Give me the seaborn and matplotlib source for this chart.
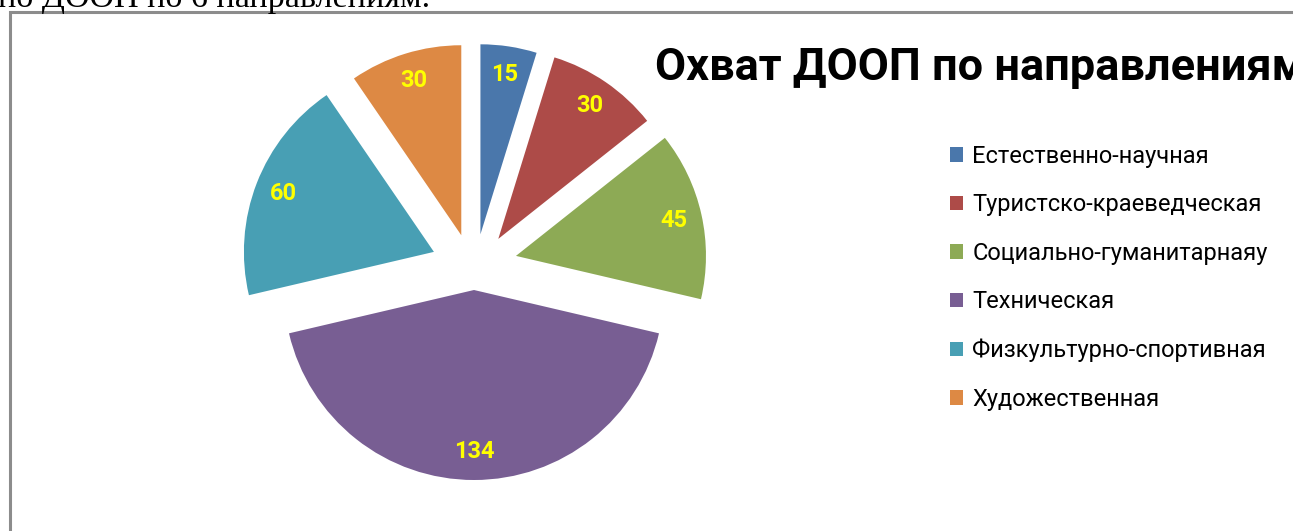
import numpy as np
import matplotlib.pyplot as plt
import seaborn as sns
from matplotlib.patches import Rectangle

# Chart data
categories = ['Естественно-научная', 'Туристско-краеведческая', 'Социально-гуманитарнаяу',
              'Техническая', 'Физкультурно-спортивная', 'Художественная']
values = [15, 30, 45, 134, 60, 30]
colors = ['#4A77AB', '#AD4B48', '#8DAA55', '#785E93', '#489FB4', '#DD8944']
title = 'Охват ДООП по направлениям'
caption = 'по ДООП по 6 направлениям.'

sns.set_theme(style="white")
plt.rcParams['font.family'] = ['Roboto', 'DejaVu Sans']
plt.rcParams['text.color'] = 'black'

W, H = 1293, 531
fig = plt.figure(figsize=(W / 100, H / 100), dpi=100)
ax = fig.add_axes([0, 0, 1, 1])

# pie in pixel-like data units (y up)
cx, cy, r = 474, H - 262, 190
wedges, _, autotexts = ax.pie(
    values, colors=colors, startangle=90, counterclock=False,
    center=(cx, cy), radius=r, pctdistance=0.85,
    autopct=lambda p: f"{p * sum(values) / 100:.0f}",
    wedgeprops=dict(linewidth=0),
    textprops=dict(color='#FFFF00', fontsize=17, fontweight='bold'))

# exploded slices: pushed further sideways than up/down
for w, t in zip(wedges, autotexts):
    mid = np.deg2rad((w.theta1 + w.theta2) / 2)
    dx, dy = 43 * np.cos(mid), 28 * np.sin(mid)
    w.set_center((cx + dx, cy + dy))
    x, y = t.get_position()
    t.set_position((x + dx, y + dy))

ax.set_xlim(0, W)
ax.set_ylim(0, H)
ax.axis('off')

ax.legend(wedges, categories, loc='upper left',
          bbox_to_anchor=(950 / W, 1 - 145 / H), bbox_transform=fig.transFigure,
          frameon=False, fontsize=17, handlelength=0.56, handleheight=0.56,
          handletextpad=0.38, labelspacing=1.08, borderaxespad=0, borderpad=0)

fig.text(655 / W, 1 - 80 / H, title, fontsize=32.5, fontweight='bold',
         va='baseline', ha='left')
fig.text(-2 / W, 1 - 7 / H, caption, fontsize=24.5, va='baseline', ha='left',
         family=['Liberation Serif', 'DejaVu Serif'])

# chart frame
fig.add_artist(Rectangle((9.5 / W, -0.1), 2, 1.1 - 12.5 / H, transform=fig.transFigure,
                         fill=False, edgecolor='#8C8C8C', linewidth=2.2))

fig.savefig('out.png', dpi=100)
